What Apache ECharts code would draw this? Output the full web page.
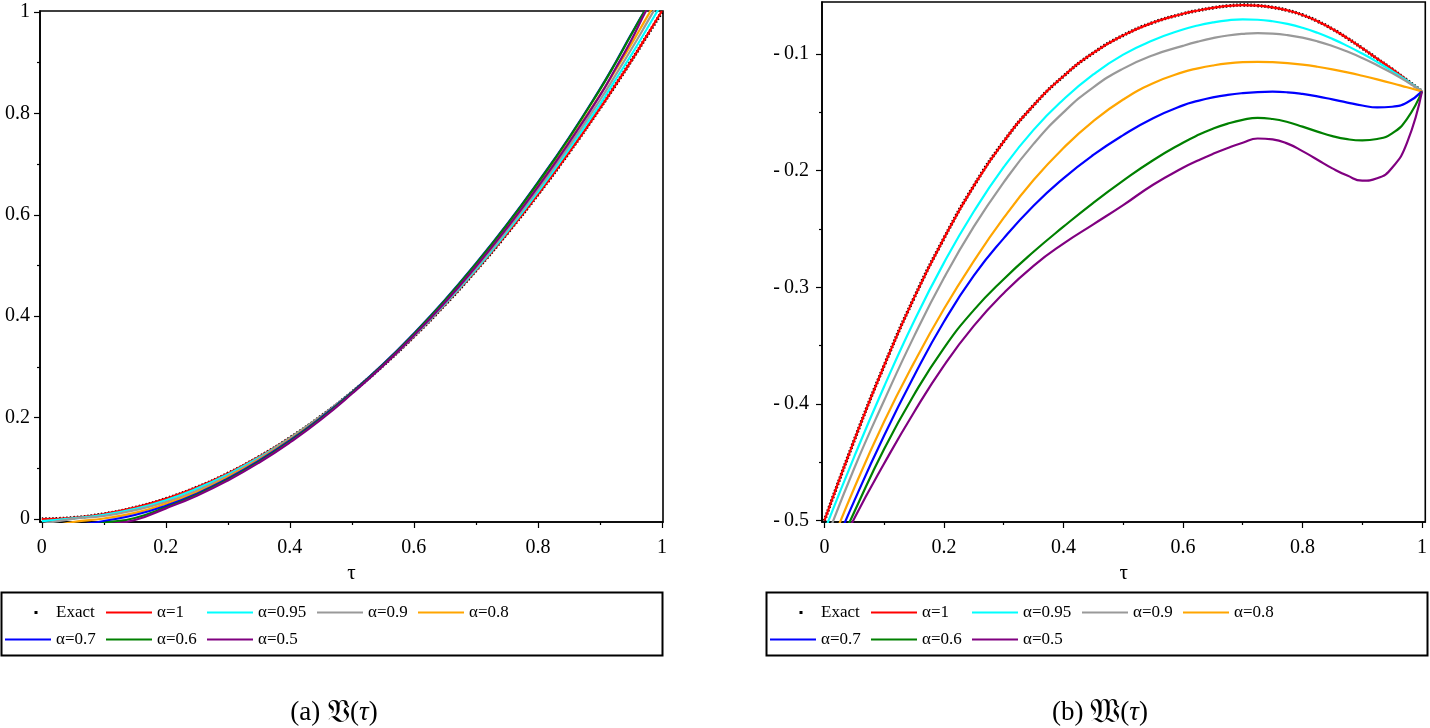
<!DOCTYPE html>
<html>
<head>
<meta charset="utf-8">
<script src="https://cdn.jsdelivr.net/npm/echarts@6/dist/echarts.min.js"></script>
<style>
  html, body { margin: 0; padding: 0; background: #fff; }
  #chart { width: 1430px; height: 728px; }
</style>
</head>
<body>
<div id="chart"></div>
<script>
const names = ['Exact', 'α=1', 'α=0.95', 'α=0.9', 'α=0.8', 'α=0.7', 'α=0.6', 'α=0.5'];
const colors = ['#000000', '#ff0000', '#00ffff', '#999999', '#ffa500', '#0000ff', '#008000', '#800080'];

// (a) V(tau)
const tauV = [0, 0.05, 0.1, 0.15, 0.2, 0.25, 0.3, 0.35, 0.4, 0.45, 0.5, 0.55, 0.6, 0.65, 0.7, 0.75, 0.8, 0.85, 0.9, 0.925, 0.95, 0.975, 1];
const vExact = [0, 0.0025, 0.01, 0.0225, 0.04, 0.0625, 0.09, 0.1225, 0.16, 0.2025, 0.25, 0.3025, 0.36, 0.4225, 0.49, 0.5625, 0.64, 0.7225, 0.81, 0.8556, 0.9025, 0.951, 1.0];
const v100 = [0, 0.0025, 0.01, 0.0225, 0.04, 0.0625, 0.09, 0.1225, 0.16, 0.2025, 0.25, 0.3025, 0.36, 0.4225, 0.49, 0.5625, 0.64, 0.7225, 0.81, 0.8558, 0.9025, 0.952, 1.002];
const v095 = [-0.004, 0.0012, 0.008, 0.020, 0.037, 0.060, 0.088, 0.121, 0.159, 0.202, 0.25, 0.303, 0.361, 0.424, 0.492, 0.566, 0.645, 0.729, 0.818, 0.866, 0.914, 0.965, 1.017];
const v090 = [-0.01, 0.0003, 0.006, 0.0175, 0.0335, 0.056, 0.085, 0.119, 0.158, 0.201, 0.25, 0.303, 0.362, 0.426, 0.495, 0.570, 0.650, 0.735, 0.826, 0.875, 0.925, 0.977, 1.03];
const v080 = [-0.02, -0.006, 0.001, 0.012, 0.030, 0.053, 0.083, 0.117, 0.157, 0.201, 0.25, 0.304, 0.364, 0.429, 0.499, 0.575, 0.657, 0.744, 0.836, 0.885, 0.935, 0.988, 1.04];
const v070 = [-0.03, -0.015, -0.004, 0.008, 0.026, 0.050, 0.080, 0.115, 0.155, 0.200, 0.25, 0.305, 0.366, 0.432, 0.504, 0.581, 0.664, 0.752, 0.848, 0.900, 0.955, 1.007, 1.05];
const v060 = [-0.035, -0.02, -0.008, 0.002, 0.023, 0.048, 0.078, 0.113, 0.153, 0.198, 0.249, 0.304, 0.365, 0.431, 0.503, 0.580, 0.663, 0.751, 0.847, 0.899, 0.954, 1.008, 1.06];
const v050 = [-0.04, -0.025, -0.012, -0.002, 0.021, 0.046, 0.076, 0.111, 0.151, 0.196, 0.247, 0.302, 0.362, 0.427, 0.498, 0.574, 0.655, 0.742, 0.835, 0.888, 0.943, 1.004, 1.06];

// (b) W(tau), denser near the humps
const tauW = [0, 0.05, 0.1, 0.15, 0.2, 0.25, 0.3, 0.35, 0.4, 0.45, 0.5, 0.55, 0.6, 0.625, 0.65, 0.675, 0.7, 0.725, 0.75, 0.775, 0.8, 0.825, 0.85, 0.875, 0.9, 0.925, 0.95, 0.975, 1];
const wExact = [-0.5, -0.431, -0.367, -0.309, -0.258, -0.213, -0.175, -0.144, -0.119, -0.099, -0.084, -0.073, -0.0655, -0.0627, -0.0604, -0.0588, -0.058, -0.0585, -0.06, -0.0626, -0.0665, -0.0718, -0.0785, -0.0864, -0.095, -0.104, -0.113, -0.1225, -0.132];
const w100 = [-0.5, -0.431, -0.367, -0.309, -0.258, -0.213, -0.175, -0.144, -0.119, -0.099, -0.084, -0.073, -0.0655, -0.0627, -0.0604, -0.0588, -0.058, -0.0585, -0.06, -0.0626, -0.0665, -0.0718, -0.0785, -0.0864, -0.095, -0.104, -0.113, -0.1225, -0.132];
const w095 = [-0.509, -0.445, -0.385, -0.329, -0.279, -0.235, -0.197, -0.165, -0.139, -0.1175, -0.1005, -0.0882, -0.079, -0.0755, -0.0729, -0.0711, -0.0703, -0.0706, -0.0719, -0.0742, -0.0775, -0.0818, -0.087, -0.093, -0.0996, -0.1068, -0.1146, -0.1229, -0.132];
const w090 = [-0.52, -0.455, -0.397, -0.342, -0.292, -0.248, -0.21, -0.177, -0.15, -0.1285, -0.1125, -0.101, -0.093, -0.0894, -0.0864, -0.0841, -0.0827, -0.0821, -0.0825, -0.0838, -0.086, -0.0891, -0.0931, -0.0979, -0.1034, -0.1096, -0.1163, -0.1238, -0.132];
const w080 = [-0.535, -0.472, -0.415, -0.3645, -0.3185, -0.2775, -0.2405, -0.208, -0.1805, -0.1575, -0.139, -0.125, -0.1155, -0.1123, -0.1098, -0.108, -0.107, -0.1067, -0.107, -0.1078, -0.1091, -0.1109, -0.1131, -0.1157, -0.1186, -0.1217, -0.125, -0.1285, -0.132];
const w070 = [-0.543, -0.483, -0.427, -0.376, -0.3295, -0.29, -0.258, -0.23, -0.2065, -0.1865, -0.1695, -0.155, -0.144, -0.1402, -0.1372, -0.135, -0.1335, -0.1326, -0.1323, -0.1328, -0.1342, -0.1363, -0.1389, -0.1416, -0.1441, -0.1458, -0.1452, -0.1415, -0.132];
const w060 = [-0.548, -0.4925, -0.4385, -0.392, -0.352, -0.3195, -0.293, -0.2695, -0.248, -0.2275, -0.2085, -0.191, -0.176, -0.1695, -0.164, -0.1596, -0.1564, -0.1547, -0.1557, -0.1583, -0.1622, -0.1665, -0.1704, -0.173, -0.174, -0.1728, -0.168, -0.1555, -0.132];
const w050 = [-0.55, -0.498, -0.451, -0.407, -0.367, -0.333, -0.305, -0.2815, -0.2625, -0.246, -0.2295, -0.212, -0.1975, -0.1913, -0.1856, -0.1805, -0.176, -0.1724, -0.1732, -0.1768, -0.1832, -0.1906, -0.198, -0.2042, -0.2085, -0.2065, -0.1975, -0.176, -0.132];

const xMajor = [0, 0.2, 0.4, 0.6, 0.8, 1];
const xMinor = [0.1, 0.3, 0.5, 0.7, 0.9];
const vMajor = [0, 0.2, 0.4, 0.6, 0.8, 1];
const vMinor = [0.1, 0.3, 0.5, 0.7, 0.9];
const wMajor = [-0.5, -0.4, -0.3, -0.2, -0.1];
const wMinor = [-0.45, -0.35, -0.25, -0.15];

const FONT = '"Liberation Serif", "DejaVu Serif", serif';
const chart = echarts.init(document.getElementById('chart'));

function majorAxis(grid, pos, min, max, ticks, margin, fmt) {
  const ax = {
    type: 'value', gridIndex: grid, position: pos, min: min, max: max,
    axisLine: { show: true, onZero: false, lineStyle: { color: '#000', width: 1.6 } },
    axisTick: { show: true, customValues: ticks, length: 6, lineStyle: { color: '#000', width: 1.2 } },
    axisLabel: { customValues: ticks, margin: margin, color: '#000', fontFamily: FONT, fontSize: 20, formatter: fmt },
    splitLine: { show: false }
  };
  if (pos === 'bottom') {
    ax.name = 'τ';
    ax.nameLocation = 'middle';
    ax.nameGap = 41;
    ax.nameTextStyle = { color: '#000', fontFamily: FONT, fontSize: 21 };
  }
  return ax;
}
function minorAxis(grid, pos, min, max, ticks) {
  return {
    type: 'value', gridIndex: grid, position: pos, offset: 0, min: min, max: max,
    axisLine: { show: false, onZero: false },
    axisTick: { show: true, customValues: ticks, length: 3, lineStyle: { color: '#000', width: 1.2 } },
    axisLabel: { show: false },
    splitLine: { show: false }
  };
}

const plain = v => String(v);
const neg = v => (v < 0 ? '-\u2009' + String(-v) : String(v));

function makeSeries(tau, vals, xi, yi) {
  return vals.map((arr, i) => {
    const isExact = i === 0;
    return {
      name: names[i], type: 'line', xAxisIndex: xi, yAxisIndex: yi,
      data: tau.map((t, k) => [t, arr[k]]),
      smooth: 0.5, symbol: 'none', clip: true, animation: false,
      lineStyle: isExact
        ? { color: '#000', width: 3.4, type: [1.5, 2] }
        : { color: colors[i], width: 2.2 },
      itemStyle: { color: colors[i] },
      z: 2 + i
    };
  });
}

const lineIcon = 'path://M0,0H46V2.2H0Z';
const dotIcon = 'path://M0,0L0.01,0L0,0.01Z M46,14L45.99,14L46,13.99Z M29.5,5.5H32.5V8.5H29.5Z';

// one legend per entry so the columns line up like the original boxes
const legendCols = [5, 106, 207, 317, 418, 5, 106, 207];
const legendRows = [604, 604, 604, 604, 604, 631, 631, 631];

function legendItems(offsetX) {
  return names.map((n, i) => ({
    left: legendCols[i] + offsetX, top: legendRows[i], selectedMode: false,
    itemWidth: 46, itemHeight: 14, padding: 0,
    textStyle: { color: '#000', fontFamily: FONT, fontSize: 17 },
    data: [{ name: n, icon: i === 0 ? dotIcon : lineIcon, itemStyle: { color: colors[i] } }]
  }));
}

function caption(x, label, letter) {
  return {
    type: 'text', x: x, y: 713,
    style: {
      text: '{n|' + label + ' }{f|' + letter + '}{n|(}{i|τ}{n|)}',
      textAlign: 'center', textVerticalAlign: 'middle', fill: '#000',
      rich: {
        n: { fontFamily: FONT, fontSize: 27, fill: '#000' },
        f: { fontFamily: FONT, fontSize: 33, fill: '#000' },
        i: { fontFamily: FONT, fontSize: 27, fontStyle: 'italic', fill: '#000' }
      }
    }
  };
}

const option = {
  backgroundColor: '#fff',
  animation: false,
  grid: [
    { left: 40, top: 11, width: 623, height: 511, show: true, borderColor: '#000', borderWidth: 1.6, backgroundColor: 'transparent' },
    { left: 822, top: 2, width: 605.5, height: 520, show: true, borderColor: '#000', borderWidth: 1.6, backgroundColor: 'transparent' }
  ],
  xAxis: [
    majorAxis(0, 'bottom', -0.003, 1.0018, xMajor, 16, plain),
    minorAxis(0, 'bottom', -0.003, 1.0018, xMinor),
    majorAxis(1, 'bottom', -0.004, 1.0055, xMajor, 16, plain),
    minorAxis(1, 'bottom', -0.004, 1.0055, xMinor)
  ],
  yAxis: [
    majorAxis(0, 'left', -0.0059, 1.002, vMajor, 10, plain),
    minorAxis(0, 'left', -0.0059, 1.002, vMinor),
    majorAxis(1, 'left', -0.5011, -0.0554, wMajor, 13, neg),
    minorAxis(1, 'left', -0.5011, -0.0554, wMinor)
  ],
  legend: legendItems(0).concat(legendItems(765)),
  series: [].concat(
    makeSeries(tauV, [vExact, v100, v095, v090, v080, v070, v060, v050], 0, 0),
    makeSeries(tauW, [wExact, w100, w095, w090, w080, w070, w060, w050], 2, 2)
  ),
  graphic: [
    { type: 'rect', shape: { x: 1.5, y: 592.5, width: 661, height: 63 }, style: { fill: 'none', stroke: '#000', lineWidth: 2 }, silent: true },
    { type: 'rect', shape: { x: 766.5, y: 592.5, width: 661, height: 63 }, style: { fill: 'none', stroke: '#000', lineWidth: 2 }, silent: true },
    caption(334, '(a)', '𝔙'),
    caption(1100, '(b)', '𝔚')
  ]
};

chart.setOption(option);
</script>
</body>
</html>
